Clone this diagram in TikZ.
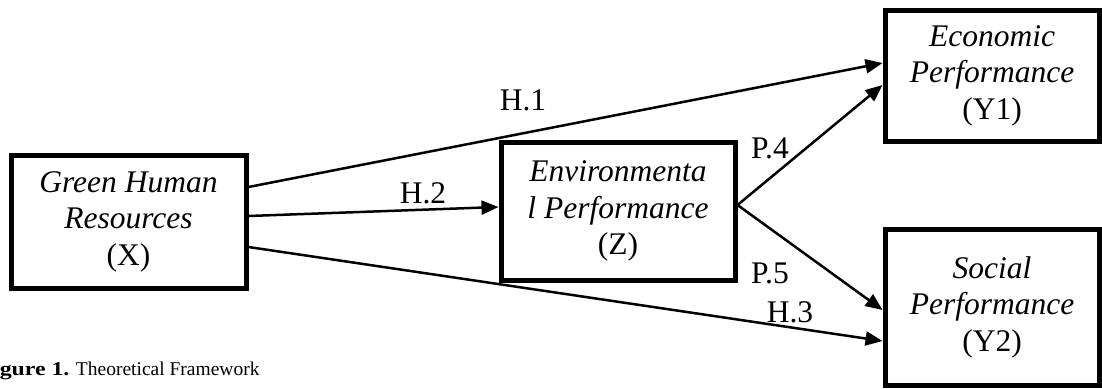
\documentclass[tikz,border=0pt]{standalone}
\usepackage{fontspec}
\setmainfont{Liberation Serif}
\newfontfamily\capfont{Liberation Serif}[FakeStretch=1.22]
\usetikzlibrary{arrows.meta}
\begin{document}
\begin{tikzpicture}[x=1pt,y=-1pt]
\tikzset{
  box/.style={draw, line width=5pt, align=center, inner sep=0pt,
              font=\fontsize{31.5}{36.5}\selectfont},
  link/.style={line width=2.5pt, -{Triangle[length=17pt,width=14pt]}},
  tag/.style={font=\fontsize{31.5}{36.5}\selectfont, inner sep=0pt}
}
\useasboundingbox (0,0) rectangle (1102,388);

% constructs
\node[box, minimum width=235pt, minimum height=133pt] (X) at (128.5,221.5)
  {\textit{Green Human}\\\textit{Resources}\\(X)};
\node[box, minimum width=234pt, minimum height=138pt] (Z) at (618,211)
  {\textit{Environmenta}\\\textit{l Performance}\\(Z)};
\node[box, minimum width=214pt, minimum height=131pt] (Y1) at (992,75.5)
  {\textit{Economic}\\\textit{Performance}\\(Y1)};
\node[box, minimum width=214pt, minimum height=156pt] (Y2) at (992,307)
  {\textit{Social}\\\textit{Performance}\\(Y2)};

% hypothesised paths
\draw[link] ([yshift=34.5pt]X.east) -- ([yshift=12.5pt]Y1.west);
\draw[link] ([yshift=5.5pt]X.east) -- ([yshift=4pt]Z.west);
\draw[link] ([yshift=-25.5pt]X.east) -- ([yshift=-34pt]Y2.west);
\draw[link] ([yshift=6pt]Z.east) -- ([yshift=-9.5pt]Y1.west);
\draw[link] ([yshift=6pt]Z.east) -- ([yshift=-3pt]Y2.west);

% path labels
\node[tag] (h1) at (523,100) {H.1};
\node[tag] (h2) at (423,193) {H.2};
\node[tag] (h3) at (790,312) {H.3};
\node[tag] (p4) at (770,148) {P.4};
\node[tag] (p5) at (770,273) {P.5};

% caption
\node[anchor=base west, inner sep=0pt, font=\fontsize{19.5}{23}\selectfont] (cap) at (-21.5,375)
  {{\capfont\bfseries Figure 1.} Theoretical Framework};
\end{tikzpicture}
\end{document}
